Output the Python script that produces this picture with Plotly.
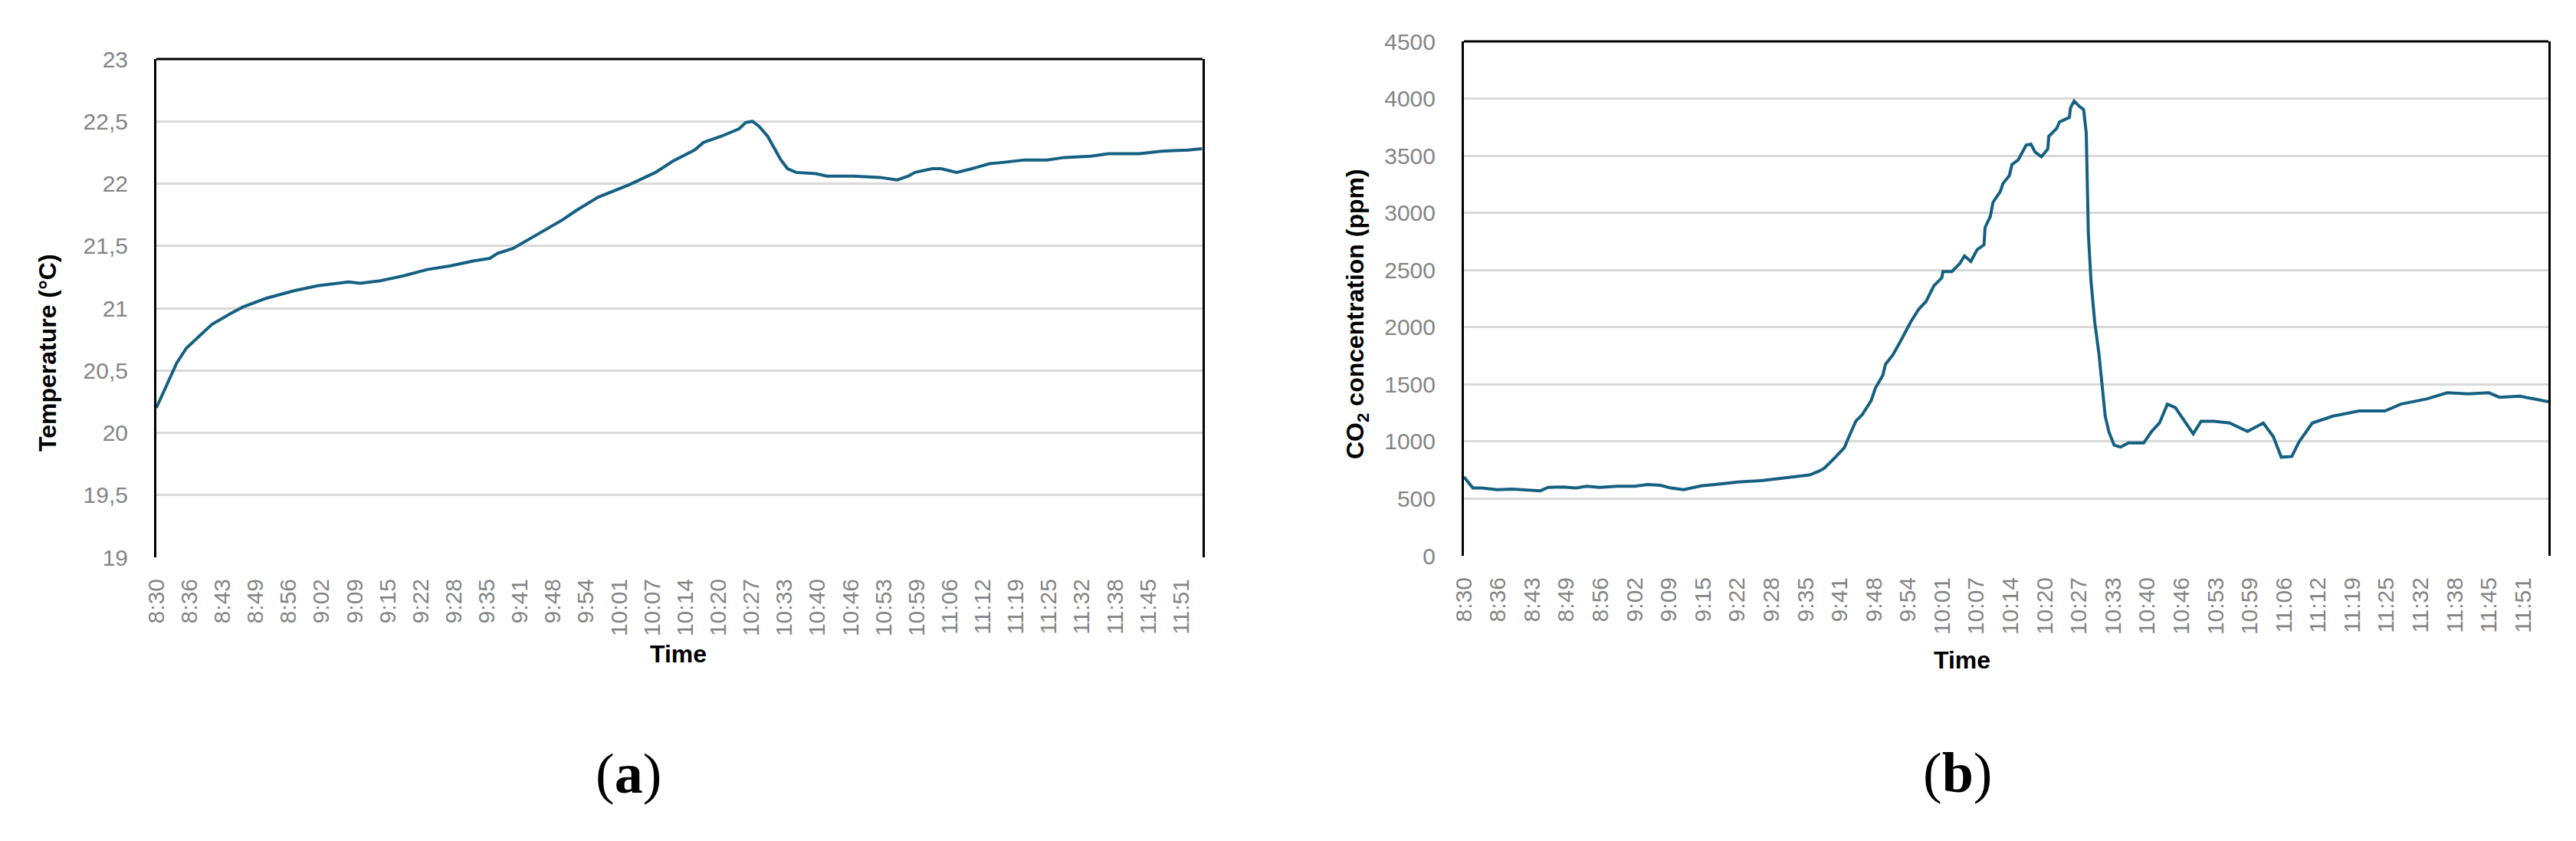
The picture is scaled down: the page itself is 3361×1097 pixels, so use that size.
import plotly.graph_objects as go

# ---------------- data ----------------
time_labels = ["8:30", "8:36", "8:43", "8:49", "8:56", "9:02", "9:09", "9:15", "9:22", "9:28",
               "9:35", "9:41", "9:48", "9:54", "10:01", "10:07", "10:14", "10:20", "10:27", "10:33",
               "10:40", "10:46", "10:53", "10:59", "11:06", "11:12", "11:19", "11:25", "11:32", "11:38",
               "11:45", "11:51"]
label_span_minutes = 201  # 8:30 -> 11:51

# minutes after 8:30
temp_minutes = [0, 2.1, 4.0, 5.9, 8.2, 10.9, 14.7, 17.0, 21.6, 27.0,
                31.6, 37.7, 40.0, 43.9, 48.5, 53.1, 57.7, 62.3, 65.4, 66.9,
                70.0, 74.6, 79.7, 82.2, 86.6, 92.7, 97.9, 101.3, 105.6, 107.3,
                110.8, 114.3, 115.6, 116.9, 118.2, 119.9, 121.2, 122.5, 123.8, 125.5,
                129.4, 131.5, 136.7, 141.9, 145.3, 147.5, 148.8, 152.2, 153.9, 157.0,
                160.0, 163.4, 166.0, 170.3, 174.7, 178.1, 183.3, 186.7, 192.8, 197.1,
                202.3, 205.1]
temp_values = [20.20, 20.39, 20.56, 20.68, 20.77, 20.87, 20.96, 21.01, 21.08, 21.14,
               21.18, 21.21, 21.20, 21.22, 21.26, 21.31, 21.34, 21.38, 21.40, 21.44,
               21.48, 21.59, 21.71, 21.78, 21.89, 21.99, 22.09, 22.18, 22.27, 22.33,
               22.38, 22.44, 22.49, 22.50, 22.46, 22.38, 22.28, 22.19, 22.12, 22.09,
               22.08, 22.06, 22.06, 22.05, 22.03, 22.06, 22.09, 22.12, 22.12, 22.09,
               22.12, 22.16, 22.17, 22.19, 22.19, 22.21, 22.22, 22.24, 22.24, 22.26,
               22.27, 22.28]

co2_minutes = [0, 0.7, 1.7, 3.3, 6.3, 9.2, 12.1, 14.5, 16.0, 18.9,
               21.3, 23.3, 25.7, 29.1, 32.4, 34.9, 37.3, 39.3, 41.7, 45.0,
               48.0, 52.0, 56.7, 61.6, 65.6, 67.5, 68.4, 70.5, 72.2, 73.2,
               74.4, 75.6, 77.3, 78.1, 79.5, 80.0, 81.4, 82.9, 83.9, 84.8,
               86.3, 87.7, 89.2, 90.7, 90.9, 92.6, 94.1, 95.0, 96.2, 97.4,
               98.7, 98.9, 99.9, 100.4, 101.8, 102.3, 103.5, 104.0, 105.2, 106.7,
               107.6, 108.4, 109.6, 110.8, 111.0, 112.5, 113.0, 114.9, 115.1, 115.8,
               116.8, 117.6, 118.1, 118.3, 118.5, 119.0, 119.7, 120.5, 121.2, 121.7,
               122.4, 123.4, 124.6, 126.1, 129.0, 130.5, 132.0, 133.5, 135.0, 136.9,
               138.4, 139.9, 142.3, 145.3, 148.7, 151.7, 153.6, 155.1, 157.1, 158.5,
               161.0, 164.9, 169.9, 174.8, 177.8, 182.7, 186.6, 190.6, 194.5, 196.5,
               200.4, 203.8, 205.8]
co2_values = [690, 653, 593, 593, 578, 584, 578, 569, 599, 602,
              593, 608, 599, 608, 608, 623, 617, 593, 578, 612,
              625, 645, 659, 683, 707, 743, 767, 863, 946, 1056,
              1180, 1235, 1359, 1469, 1579, 1675, 1758, 1881, 1964, 2047,
              2157, 2225, 2363, 2432, 2487, 2487, 2556, 2624, 2575, 2679,
              2721, 2872, 2968, 3092, 3188, 3257, 3326, 3422, 3464, 3593,
              3601, 3532, 3491, 3560, 3670, 3739, 3794, 3835, 3918, 3978,
              3931, 3904, 3698, 3230, 2817, 2404, 2047, 1771, 1441, 1221,
              1083, 968, 951, 987, 987, 1088, 1162, 1327, 1297, 1162,
              1067, 1177, 1177, 1162, 1088, 1162, 1043, 863, 869, 998,
              1162, 1222, 1267, 1267, 1327, 1372, 1426, 1417, 1426, 1387,
              1396, 1366, 1348]

temp_ticks = [19, 19.5, 20, 20.5, 21, 21.5, 22, 22.5, 23]
temp_tick_labels = ["19", "19,5", "20", "20,5", "21", "21,5", "22", "22,5", "23"]
co2_ticks = [0, 500, 1000, 1500, 2000, 2500, 3000, 3500, 4000, 4500]
co2_tick_labels = ["0", "500", "1000", "1500", "2000", "2500", "3000", "3500", "4000", "4500"]

# ---------------- layout helpers ----------------
W, H = 3361, 1097
LINE = "#156082"
GRID = "#d9d9d9"
TICKC = "#858585"
SANS = "Liberation Sans, Arial, sans-serif"
SERIF = "Liberation Serif, Times New Roman, serif"

n = len(time_labels)
tick_pos = [i * label_span_minutes / (n - 1) for i in range(n)]


def px_x(p):
    return p / W


def px_y(p):
    return 1 - p / H


fig = go.Figure()
fig.add_trace(go.Scatter(x=temp_minutes, y=temp_values, mode="lines",
                         line=dict(color=LINE, width=4), xaxis="x", yaxis="y",
                         showlegend=False, hoverinfo="skip"))
fig.add_trace(go.Scatter(x=co2_minutes, y=co2_values, mode="lines",
                         line=dict(color=LINE, width=4), xaxis="x2", yaxis="y2",
                         showlegend=False, hoverinfo="skip"))

xcommon = dict(tickmode="array", tickvals=tick_pos, ticktext=time_labels, tickangle=-90,
               showgrid=False, zeroline=False, showline=False, ticks="outside", ticklen=15,
               tickcolor="rgba(0,0,0,0)", tickfont=dict(family=SANS, size=30, color=TICKC),
               fixedrange=True, automargin=False)
ycommon = dict(tickmode="array", showgrid=True, gridcolor=GRID, gridwidth=3, zeroline=False,
               showline=True, mirror=True, linecolor="black", linewidth=3,
               ticks="outside", ticklen=28, tickcolor="rgba(0,0,0,0)",
               tickfont=dict(family=SANS, size=30, color=TICKC), fixedrange=True,
               automargin=False)

L1, R1, T1, B1 = 204, 1569, 77, 727
L2, R2, T2, B2 = 1910, 3325, 54, 725

fig.update_layout(
    template="none",
    width=W, height=H, autosize=False,
    margin=dict(l=0, r=0, t=0, b=0, pad=0, autoexpand=False),
    paper_bgcolor="white", plot_bgcolor="white",
    showlegend=False,
    xaxis=dict(domain=[px_x(L1), px_x(R1)], range=[0, 205.2], anchor="y", **xcommon),
    yaxis=dict(domain=[px_y(B1), px_y(T1)], range=[19, 23], anchor="x",
               tickvals=temp_ticks, ticktext=temp_tick_labels, **ycommon),
    xaxis2=dict(domain=[px_x(L2), px_x(R2)], range=[0, 205.8], anchor="y2", **xcommon),
    yaxis2=dict(domain=[px_y(B2), px_y(T2)], range=[0, 4500], anchor="x2",
                tickvals=co2_ticks, ticktext=co2_tick_labels, **ycommon),
)

# top borders of the plot areas
for xr, yr in (("x domain", "y domain"), ("x2 domain", "y2 domain")):
    fig.add_shape(type="line", xref=xr, yref=yr, x0=0, x1=1, y0=1, y1=1,
                  line=dict(color="black", width=3), layer="above")

title_font = dict(family=SANS, size=32, color="black")
annots = [
    dict(text="<b>Temperature (°C)</b>", x=px_x(62), y=px_y(460), textangle=-90, font=title_font),
    dict(text="<b>CO<sub>2</sub> concentration (ppm)</b>", x=px_x(1770), y=px_y(409), textangle=-90,
         font=title_font),
    dict(text="<b>Time</b>", x=px_x(885), y=px_y(853), font=title_font),
    dict(text="<b>Time</b>", x=px_x(2560), y=px_y(861), font=title_font),
    dict(text="(<b>a</b>)", x=px_x(820), y=px_y(1009), font=dict(family=SERIF, size=74, color="black")),
    dict(text="(<b>b</b>)", x=px_x(2554), y=px_y(1008), font=dict(family=SERIF, size=74, color="black")),
]
for a in annots:
    fig.add_annotation(xref="paper", yref="paper", showarrow=False,
                       xanchor="center", yanchor="middle", **a)

fig.write_html("out.html",
               config={"displayModeBar": False, "staticPlot": True},
               post_script="document.body.style.margin='0';document.body.style.padding='0';")
